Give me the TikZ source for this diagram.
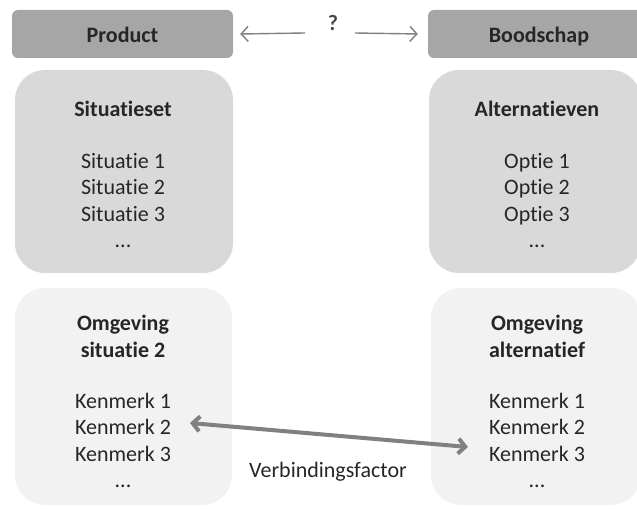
\documentclass[tikz,border=0pt]{standalone}
\usepackage{fontspec}
\setmainfont{Carlito}[Ligatures=NoCommon]
\usetikzlibrary{arrows.meta}

\definecolor{headgray}{HTML}{A6A6A6}
\definecolor{boxgray}{HTML}{D9D9D9}
\definecolor{lightgray}{HTML}{F2F2F2}
\definecolor{txtgray}{HTML}{262626}
\definecolor{arrgray}{HTML}{808080}

\newcommand{\basesize}{\fontsize{22}{26.5}\selectfont}

\tikzstyle{header}=[fill=headgray,rounded corners=6pt,minimum height=48pt,inner sep=0pt,font=\basesize\bfseries,text=txtgray,text height=18pt,text depth=0pt]
\tikzstyle{setbox}=[fill=boxgray,rounded corners=30pt,minimum height=203pt,inner sep=0pt]
\tikzstyle{envbox}=[fill=lightgray,rounded corners=30pt,minimum height=217pt,inner sep=0pt]
\tikzstyle{title}=[font=\basesize\bfseries,text=txtgray,align=center,inner sep=0pt]
\tikzstyle{items}=[font=\basesize,text=txtgray,align=center,inner sep=0pt]
\tikzstyle{thin}=[draw=arrgray,line width=1.4pt,-{Straight Barb[length=7pt,width=15pt]}]
\tikzstyle{link}=[draw=arrgray,line width=4pt,{Straight Barb[length=7pt,width=15pt]}-{Straight Barb[length=7pt,width=15pt]}]

\begin{document}
\begin{tikzpicture}[x=1pt,y=-1pt,font=\basesize]

   \useasboundingbox (0,0) rectangle (637,510);

   % kopjes
   \node[header,minimum width=221pt] (product) at (122.5,34) {Product};
   \node[header,minimum width=222pt] (boodschap) at (539,34) {Boodschap};
   \node[text=txtgray!85,font=\fontsize{22}{24}\selectfont\bfseries] (vraag) at (333,23) {?};
   \coordinate (vl) at (305,33);
   \coordinate (vr) at (355,33);
   \draw[thin] (vl) -- ([xshift=7pt]product.east);
   \draw[thin] (vr) -- ([xshift=-10pt]boodschap.west);

   % bovenste vakken
   \node[setbox,minimum width=218pt] (situatieset) at (124,171.5) {};
   \node[setbox,minimum width=212pt] (alternatieven) at (535,171.5) {};

   \node[title] (t1) at (123,109) {Situatieset};
   \node[items,anchor=north] (s1) at (123,153) {Situatie 1\\Situatie 2\\Situatie 3\\...};
   \node[title] (t2) at (537,109) {Alternatieven};
   \node[items,anchor=north] (o1) at (537,153) {Optie 1\\Optie 2\\Optie 3\\...};

   % onderste vakken
   \node[envbox,minimum width=217pt] (omgsit) at (123.5,396.5) {};
   \node[envbox,minimum width=210pt] (omgalt) at (536,396.5) {};

   \node[title,anchor=north] (t3) at (123,315) {Omgeving\\situatie 2};
   \node[items,anchor=north] (k1) at (123,393) {Kenmerk 1\\Kenmerk 2\\Kenmerk 3\\...};
   \node[title,anchor=north] (t4) at (537,315) {Omgeving\\alternatief};
   \node[items,anchor=north] (k2) at (537,393) {Kenmerk 1\\Kenmerk 2\\Kenmerk 3\\...};

   % verbinding
   \coordinate (kl) at (190,423);
   \coordinate (kr) at (468,447);
   \draw[link] (kl) -- (kr);
   \node[items] (factor) at (328,472) {Verbindingsfactor};

\end{tikzpicture}
\end{document}
